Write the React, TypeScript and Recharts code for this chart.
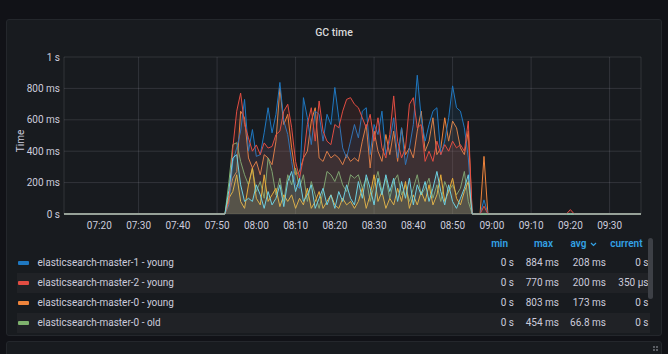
import { AreaChart, Area, XAxis, YAxis, CartesianGrid } from 'recharts'

// time window shown on the panel
const rangeStart = '07:11'
const rangeEnd = '09:38'
const xTickLabels = ['07:20', '07:30', '07:40', '07:50', '08:00', '08:10', '08:20', '08:30', '08:40', '08:50', '09:00', '09:10', '09:20', '09:30']
const yTicks = [0, 200, 400, 600, 800, 1000]

// one value per minute, from burstStart on (ms)
const burstStart = '07:51'
const master1Young = [
  0, 0, 60, 335, 420, 528, 730, 400, 538, 367, 378, 517, 677, 517, 635, 838, 592,
  506, 335, 186, 164, 741, 613, 442, 655, 635, 464, 635, 570, 806, 613, 421, 357, 464, 570,
  485, 655, 677, 378, 570, 506, 655, 378, 464, 613, 357, 549, 314, 421, 570, 884, 613,
  464, 570, 655, 677, 378, 464, 613, 816, 677, 655, 549, 357, 0, 0, 0, 90, 0,
]
const master2Young = [
  0, 0, 80, 420, 655, 770, 570, 485, 400, 440, 378, 453, 420, 430, 506, 528, 655,
  699, 549, 335, 228, 357, 570, 677, 464, 720, 528, 464, 442, 570, 549, 655, 730, 741, 699,
  677, 613, 549, 635, 464, 613, 421, 357, 506, 752, 464, 357, 421, 699, 741, 549, 570,
  335, 400, 335, 464, 378, 442, 400, 464, 421, 442, 400, 592, 0, 0, 0, 50, 0,
]
const master0Young = [
  0, 0, 120, 228, 270, 655, 613, 357, 293, 335, 250, 378, 357, 314, 464, 803, 570,
  635, 421, 250, 271, 357, 400, 592, 677, 357, 335, 400, 357, 378, 357, 314, 378, 335, 357,
  335, 464, 570, 293, 528, 400, 335, 506, 378, 528, 335, 549, 378, 421, 357, 528, 655,
  400, 464, 613, 378, 421, 613, 464, 592, 549, 421, 378, 528, 0, 0, 0, 367, 0,
]
const master0Old = [
  0, 0, 200, 442, 454, 335, 250, 186, 293, 143, 207, 100, 357, 271, 122, 228, 80,
  250, 186, 293, 164, 250, 80, 207, 122, 36, 143, 271, 250, 207, 271, 186, 143, 250, 228,
  250, 164, 228, 80, 186, 271, 143, 228, 100, 207, 250, 122, 186, 80, 164, 250, 122,
  164, 228, 100, 186, 80, 207, 143, 186, 122, 164, 271, 80, 0, 0, 0, 0, 0,
]
const master1Old = [
  0, 0, 100, 143, 250, 80, 36, 186, 293, 100, 58, 250, 80, 122, 164, 47, 122,
  80, 122, 36, 100, 58, 164, 36, 80, 143, 36, 80, 122, 58, 36, 100, 58, 80, 36,
  80, 164, 36, 122, 250, 80, 143, 36, 100, 58, 164, 80, 207, 36, 122, 58, 143,
  80, 186, 58, 122, 250, 80, 143, 228, 100, 58, 143, 207, 0, 0, 0, 0, 0,
]
const master2Old = [
  0, 0, 150, 357, 378, 186, 80, 100, 80, 186, 122, 36, 143, 58, 100, 186, 47,
  207, 271, 143, 228, 80, 122, 186, 36, 100, 164, 58, 122, 36, 143, 80, 186, 100, 58,
  207, 100, 250, 164, 58, 228, 122, 250, 143, 228, 80, 207, 100, 228, 58, 186, 122,
  207, 80, 164, 271, 143, 58, 186, 80, 36, 100, 164, 250, 0, 0, 0, 0, 0,
]

// sparse samples outside the burst
const quietTimes = ['07:11', '09:19', '09:20', '09:21', '09:38']
const quietMaster1Young = [0, 0, 0, 0, 0]
const quietMaster2Young = [0, 0, 28, 0, 0]
const quietMaster0Young = [0, 0, 0, 0, 0]
const quietMaster0Old = [0, 0, 0, 0, 0]
const quietMaster1Old = [0, 0, 0, 0, 0]
const quietMaster2Old = [0, 0, 0, 0, 0]

// legend table (as shown, sorted by avg)
const legendNames = ['elasticsearch-master-1 - young', 'elasticsearch-master-2 - young', 'elasticsearch-master-0 - young', 'elasticsearch-master-0 - old']
const legendMin = ['0 s', '0 s', '0 s', '0 s']
const legendMax = ['884 ms', '770 ms', '803 ms', '454 ms']
const legendAvg = ['208 ms', '200 ms', '173 ms', '66.8 ms']
const legendCurrent = ['0 s', '350 µs', '0 s', '0 s']
const legendColors = ['#1f78c1', '#e24d42', '#ef843c', '#7eb26d']

const series = [
  { key: 'm0y', name: 'elasticsearch-master-0 - young', color: '#ef843c', burst: master0Young, quiet: quietMaster0Young },
  { key: 'm0o', name: 'elasticsearch-master-0 - old', color: '#7eb26d', burst: master0Old, quiet: quietMaster0Old },
  { key: 'm1y', name: 'elasticsearch-master-1 - young', color: '#1f78c1', burst: master1Young, quiet: quietMaster1Young },
  { key: 'm1o', name: 'elasticsearch-master-1 - old', color: '#eab839', burst: master1Old, quiet: quietMaster1Old },
  { key: 'm2y', name: 'elasticsearch-master-2 - young', color: '#e24d42', burst: master2Young, quiet: quietMaster2Young },
  { key: 'm2o', name: 'elasticsearch-master-2 - old', color: '#6ed0e0', burst: master2Old, quiet: quietMaster2Old },
]

const toMin = (s: string) => {
  const [h, m] = s.split(':').map(Number)
  return h * 60 + m
}
const fmtTime = (v: number) =>
  `${String(Math.floor(v / 60)).padStart(2, '0')}:${String(v % 60).padStart(2, '0')}`
const fmtMs = (v: number) => (v === 0 ? '0 s' : v >= 1000 ? `${v / 1000} s` : `${v} ms`)

const rows: Record<string, number>[] = []
quietTimes.forEach((t, i) => {
  const row: Record<string, number> = { t: toMin(t) }
  series.forEach((s) => (row[s.key] = s.quiet[i]))
  rows.push(row)
})
master1Young.forEach((_, i) => {
  const row: Record<string, number> = { t: toMin(burstStart) + i }
  series.forEach((s) => (row[s.key] = s.burst[i]))
  rows.push(row)
})
rows.sort((a, b) => a.t - b.t)

const font = 'Roboto, "Noto Sans", sans-serif'
const textColor = '#ccccdc'

function Chevron() {
  return (
    <svg width="7" height="5" style={{ marginLeft: 3, verticalAlign: 'middle' }}>
      <polyline points="1,1 3.5,3.5 6,1" fill="none" stroke="#33a2e5" strokeWidth="1.2" />
    </svg>
  )
}

export default function App() {
  const colRight = [154, 109, 62, 19.5]
  const headRight = [160, 115, 71.5, 25.5]
  return (
    <div style={{ position: 'absolute', left: 0, top: 0, width: 668, height: 354, background: '#111217', fontFamily: font, overflow: 'hidden' }}>
      <div style={{ position: 'absolute', left: 6, top: 19, width: 654, height: 315, background: '#181b1f', border: '1px solid #24272c', borderRadius: 3 }} />
      <div style={{ position: 'absolute', left: 6, top: 341, width: 654, height: 20, background: '#181b1f', border: '1px solid #24272c', borderRadius: 3 }} />
      <div style={{ position: 'absolute', left: 0, top: 26, width: 668, textAlign: 'center', color: '#d8d9da', fontSize: 10.5, fontWeight: 500 }}>GC time</div>
      <div style={{ position: 'absolute', left: 20, top: 141, transform: 'translate(-50%, -50%) rotate(-90deg)', color: textColor, fontSize: 10 }}>Time</div>

      <div style={{ position: 'absolute', left: 0, top: 0 }}>
        <AreaChart width={668} height={240} data={rows} margin={{ top: 57, right: 27, bottom: 6, left: 0 }}>
          <CartesianGrid stroke="rgba(204,204,220,0.14)" />
          <XAxis
            dataKey="t"
            type="number"
            domain={[toMin(rangeStart), toMin(rangeEnd)]}
            ticks={xTickLabels.map(toMin)}
            tickFormatter={fmtTime}
            allowDataOverflow
            height={20}
            axisLine={false}
            tickLine={false}
            tickSize={0}
            tickMargin={8}
            tick={{ fill: textColor, fontSize: 10, fontFamily: font }}
          />
          <YAxis
            domain={[0, 1000]}
            ticks={yTicks}
            tickFormatter={fmtMs}
            width={64}
            axisLine={false}
            tickLine={false}
            tickSize={0}
            tickMargin={4}
            tick={{ fill: textColor, fontSize: 10, fontFamily: font }}
          />
          {series.map((s) => (
            <Area
              key={s.key}
              type="linear"
              dataKey={s.key}
              name={s.name}
              stroke={s.color}
              strokeWidth={1}
              fill={s.color}
              fillOpacity={0.1}
              dot={false}
              activeDot={false}
              isAnimationActive={false}
            />
          ))}
        </AreaChart>
      </div>

      {/* legend table */}
      <div style={{ position: 'absolute', left: 0, top: 0, width: 668, height: 354, fontSize: 10 }}>
        {['min', 'max', 'avg', 'current'].map((h, i) => (
          <div key={h} style={{ position: 'absolute', right: headRight[i], top: 237, color: '#33a2e5', fontWeight: 600, lineHeight: '14px' }}>
            {h}
            {h === 'avg' && <Chevron />}
          </div>
        ))}
        {legendNames.map((name, r) => (
          <div key={name} style={{ position: 'absolute', left: 17, top: 253 + r * 20, width: 633, height: 20, background: r % 2 === 1 ? '#202226' : 'transparent' }}>
            <div style={{ position: 'absolute', left: 1, top: 8, width: 11, height: 4, borderRadius: 1, background: legendColors[r] }} />
            <div style={{ position: 'absolute', left: 20.5, top: 3, color: textColor, lineHeight: '14px', whiteSpace: 'nowrap' }}>{name}</div>
          </div>
        ))}
        {legendNames.map((name, r) =>
          [legendMin[r], legendMax[r], legendAvg[r], legendCurrent[r]].map((v, c) => (
            <div key={name + c} style={{ position: 'absolute', right: colRight[c], top: 256 + r * 20, color: textColor, lineHeight: '14px', whiteSpace: 'nowrap' }}>
              {v}
            </div>
          ))
        )}
        <div style={{ position: 'absolute', left: 648, top: 238, width: 5, height: 61, borderRadius: 3, background: '#3d4046' }} />
        {[0, 1, 2, 3].map((d) => (
          <div key={d} style={{ position: 'absolute', left: 653 + (d % 2) * 3, top: 346 + Math.floor(d / 2) * 3, width: 2, height: 2, background: '#5a5d63' }} />
        ))}
      </div>
    </div>
  )
}
